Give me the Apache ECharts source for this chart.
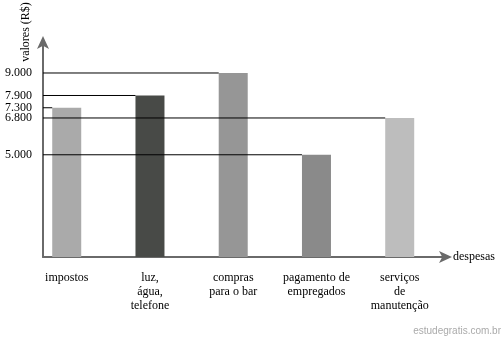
<!DOCTYPE html>
<html>
<head>
<meta charset="utf-8">
<script src="https://cdn.jsdelivr.net/npm/echarts@6/dist/echarts.min.js"></script>
<style>
html,body{margin:0;padding:0;background:#fff;}
#c{width:504px;height:339px;}
</style>
</head>
<body>
<div id="c"></div>
<script>
const categories = ['impostos', 'luz,\nágua,\ntelefone', 'compras\npara o bar', 'pagamento de\nempregados', 'serviços\nde\nmanutenção'];
const values = [7300, 7900, 9000, 5000, 6800];
const barColors = ['#aaaaaa', '#484a47', '#969696', '#8a8a8a', '#bdbdbd'];
const tickValues = [9000, 7900, 7300, 6800, 5000];

const BAR_W = 29;
const FONT = 'Liberation Serif';

const chart = echarts.init(document.getElementById('c'));
const points = values.map((v, i) => [i, v]);

chart.setOption({
  animation: false,
  backgroundColor: '#fff',
  grid: { left: 43, right: 56, top: 40, bottom: 82 },
  xAxis: {
    type: 'value',
    min: -0.285,
    max: 4.58,
    name: 'despesas',
    nameLocation: 'end',
    nameGap: 5,
    nameTextStyle: { fontFamily: FONT, fontSize: 12, color: '#000' },
    axisLine: { show: true, onZero: false, lineStyle: { color: '#6a6a6a', width: 2 }, symbol: ['none', 'arrow'], symbolSize: [9, 13], symbolOffset: [0, 4] },
    axisTick: { show: false },
    splitLine: { show: false },
    axisLabel: {
      customValues: [0, 1, 2, 3, 4],
      formatter: v => categories[Math.round(v)],
      fontFamily: FONT, fontSize: 12, color: '#000', lineHeight: 14, margin: 14
    }
  },
  yAxis: {
    type: 'value',
    min: 0,
    max: 10614,
    axisLine: { show: true, onZero: false, lineStyle: { color: '#6a6a6a', width: 2 }, symbol: ['none', 'arrow'], symbolSize: [9, 13], symbolOffset: [0, 4] },
    axisTick: { show: false },
    splitLine: { show: false },
    axisLabel: {
      customValues: tickValues,
      formatter: v => v.toLocaleString('pt-BR'),
      fontFamily: FONT, fontSize: 12, color: '#000', margin: 11
    }
  },
  graphic: [
    {
      type: 'text', x: 26, y: 32, rotation: Math.PI / 2,
      style: { text: 'valores (R$)', font: '12px "Liberation Serif"', fill: '#000', align: 'center', verticalAlign: 'middle' }
    },
    {
      type: 'text', right: 3, bottom: 3,
      style: { text: 'estudegratis.com.br', font: '10px "Liberation Sans"', fill: '#aaaaaa' }
    }
  ],
  series: [
    {
      type: 'bar',
      data: points.map((p, i) => ({ value: p, itemStyle: { color: barColors[i] } })),
      barWidth: BAR_W,
      z: 2
    },
    {
      type: 'custom',
      data: points,
      z: 3,
      renderItem: function (params, api) {
        const c = api.coord([api.value(0), api.value(1)]);
        const x0 = params.coordSys.x;
        return {
          type: 'line',
          shape: { x1: x0, y1: c[1], x2: c[0] - BAR_W / 2, y2: c[1] },
          style: { stroke: '#000', lineWidth: 1 }
        };
      }
    }
  ]
});
</script>
</body>
</html>
